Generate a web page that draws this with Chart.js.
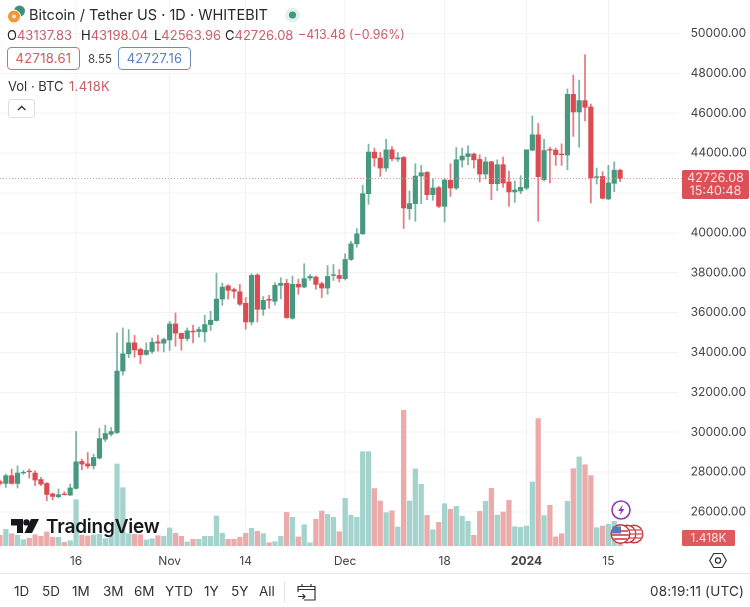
<!DOCTYPE html>
<html><head><meta charset="utf-8">
<style>
html,body{margin:0;padding:0;background:#fff;width:750px;height:607px;overflow:hidden;font-family:Inter,Roboto,sans-serif;color:#222}
#wrap{position:relative;width:750px;height:607px}
canvas{position:absolute;left:0;top:0}
.t{position:absolute;white-space:nowrap;line-height:1}
.red{color:#c9606a}
.box{position:absolute;border-radius:4px;background:#fff;font-size:13px;text-align:center;box-sizing:border-box;letter-spacing:.3px}
.tb{position:absolute;top:585px;font-size:13.5px;color:#333;line-height:1}
svg{position:absolute;overflow:visible}
</style>
<script src="https://cdn.jsdelivr.net/npm/chart.js@4"></script>
</head><body><div id="wrap">
<canvas id="c" width="750" height="573"></canvas>

<svg style="left:0;top:0" width="40" height="30">
<circle cx="19.5" cy="11" r="5.5" fill="#3f8f80"/>
<circle cx="14" cy="16.5" r="6.5" fill="#ef9a36" stroke="#fff" stroke-width="1"/>
<circle cx="14" cy="16.5" r="2" fill="#fff" opacity=".75"/>
</svg>
<div class="t" style="left:29px;top:8px;font-size:14.5px;color:#2a2a2e">Bitcoin / Tether US · 1D · WHITEBIT</div>
<svg style="left:284px;top:7px" width="18" height="18"><circle cx="8.5" cy="8" r="7.5" fill="#e3f1ee"/><circle cx="8.5" cy="8" r="3.6" fill="#3f9a85"/></svg>
<div class="t" style="left:7px;top:29px;font-size:13px"><span>O</span><span class="red">43137.83</span></div>
<div class="t" style="left:81px;top:29px;font-size:13px"><span>H</span><span class="red">43198.04</span></div>
<div class="t" style="left:154px;top:29px;font-size:13px"><span>L</span><span class="red">42563.96</span></div>
<div class="t" style="left:225px;top:29px;font-size:13px"><span>C</span><span class="red">42726.08</span></div>
<div class="t red" style="left:298px;top:29px;font-size:12.4px">−413.48 (−0.96%)</div>
<div class="box" style="left:7px;top:47px;width:73px;height:23px;line-height:21px;border:1px solid #cc6f74;color:#c9606a">42718.61</div>
<div class="t" style="left:88px;top:54px;font-size:11.5px;color:#444">8.55</div>
<div class="box" style="left:118px;top:47px;width:73px;height:23px;line-height:21px;border:1px solid #6a8ac4;color:#5a7fc0">42727.16</div>
<div class="t" style="left:8px;top:80px;font-size:13px;color:#333">Vol · BTC</div>
<div class="t red" style="left:69px;top:80px;font-size:13px;letter-spacing:.3px">1.418K</div>
<div style="position:absolute;left:8px;top:99px;width:27px;height:19px;border:1px solid #ddd;border-radius:3px;box-sizing:border-box;background:#fff"></div>
<svg style="left:17px;top:105px" width="10" height="6"><path d="M1 5 L4.7 1.5 L8.5 5" fill="none" stroke="#333" stroke-width="1.4"/></svg>

<svg style="left:11px;top:519px" width="40" height="18"><path d="M0 0H12V14H6V6.5H0Z" fill="#17181c"/><circle cx="15.5" cy="3.4" r="3.2" fill="#17181c"/><path d="M20 0H28L21 14H13.5Z" fill="#17181c"/></svg>
<div class="t" style="left:46px;top:517px;font-size:19px;font-weight:600;color:#17181c;letter-spacing:-.2px">TradingView</div>

<svg style="left:611px;top:500px" width="20" height="20"><circle cx="10" cy="10" r="9" fill="#fff" stroke="#8e3cb0" stroke-width="1.6"/><path d="M12 4.5 L7 11 H10 L8.5 15.5 L13.5 9 H10.5Z" fill="#8e3cb0"/></svg>
<svg style="left:610px;top:524px" width="40" height="22">
<circle cx="24" cy="10" r="8.8" fill="#fff" stroke="#c8343c" stroke-width="1.4"/><path d="M20 6H32M22 10H33M20 14H32" stroke="#d9646a" stroke-width="1.6"/>
<circle cx="17" cy="10" r="8.8" fill="#fff" stroke="#c8343c" stroke-width="1.4"/><path d="M12 6H25M12 10H26M12 14H25" stroke="#d9646a" stroke-width="1.6"/>
<circle cx="10.5" cy="10" r="9.3" fill="#fff" stroke="#c8343c" stroke-width="1.4"/><path d="M3 7H18M2 11H19M4 15H17" stroke="#d9646a" stroke-width="1.8"/><path d="M2.5 2.5H11V9.5H2Z" fill="#5578b8"/>
</svg>

<svg style="left:709px;top:552px" width="18" height="17"><path d="M4.7 1.5H13.3L17.3 8.5 13.3 15.5H4.7L.7 8.5Z" fill="none" stroke="#333" stroke-width="1.2"/><circle cx="9" cy="8.5" r="2.6" fill="none" stroke="#333" stroke-width="1.2"/></svg>

<div style="position:absolute;left:0;top:573px;width:750px;height:1px;background:#e6e6e6"></div>
<div class="tb" style="left:14px">1D</div>
<div class="tb" style="left:42px">5D</div>
<div class="tb" style="left:72px">1M</div>
<div class="tb" style="left:103px">3M</div>
<div class="tb" style="left:134px">6M</div>
<div class="tb" style="left:165px">YTD</div>
<div class="tb" style="left:204px">1Y</div>
<div class="tb" style="left:231px">5Y</div>
<div class="tb" style="left:259px">All</div>
<div style="position:absolute;left:284px;top:582px;width:1px;height:20px;background:#e3e3e3"></div>
<svg style="left:297px;top:582px" width="20" height="20"><path d="M1 10V4.5H18V18H7M1 7.5H18M5 2V5M14 2V5M1 14.5H7.5M5.5 12L8 14.5 5.5 17" fill="none" stroke="#333" stroke-width="1.2"/></svg>
<div class="tb" style="left:650px;letter-spacing:.2px">08:19:11 (UTC)</div>
</div>
<script>
const categories = ["Oct 3","Oct 4","Oct 5","Oct 6","Oct 7","Oct 8","Oct 9","Oct 10","Oct 11","Oct 12","Oct 13","Oct 14","Oct 15","Oct 16","Oct 17","Oct 18","Oct 19","Oct 20","Oct 21","Oct 22","Oct 23","Oct 24","Oct 25","Oct 26","Oct 27","Oct 28","Oct 29","Oct 30","Oct 31",
"Nov 1","Nov 2","Nov 3","Nov 4","Nov 5","Nov 6","Nov 7","Nov 8","Nov 9","Nov 10","Nov 11","Nov 12","Nov 13","Nov 14","Nov 15","Nov 16","Nov 17","Nov 18","Nov 19","Nov 20","Nov 21","Nov 22","Nov 23","Nov 24","Nov 25","Nov 26","Nov 27","Nov 28","Nov 29","Nov 30",
"Dec 1","Dec 2","Dec 3","Dec 4","Dec 5","Dec 6","Dec 7","Dec 8","Dec 9","Dec 10","Dec 11","Dec 12","Dec 13","Dec 14","Dec 15","Dec 16","Dec 17","Dec 18","Dec 19","Dec 20","Dec 21","Dec 22","Dec 23","Dec 24","Dec 25","Dec 26","Dec 27","Dec 28","Dec 29","Dec 30","Dec 31",
"Jan 1","Jan 2","Jan 3","Jan 4","Jan 5","Jan 6","Jan 7","Jan 8","Jan 9","Jan 10","Jan 11","Jan 12","Jan 13","Jan 14","Jan 15","Jan 16","Jan 17",
"Jan 18","Jan 19","Jan 20","Jan 21","Jan 22","Jan 23","Jan 24","Jan 25","Jan 26","Jan 27"];
const opens = [27515,27430,27815,27430,27960,28040,27950,27620,27430,26900,26765,26900,26850,27180,28530,28415,28315,28700,29650,29900,29980,33065,33930,34480,34150,33900,34050,34530,34465,
34630,35430,34950,34700,35070,35050,35030,35400,35600,36680,37340,37155,37040,36465,35530,37880,36165,36665,36565,37365,37465,35715,37415,37280,37730,37780,37450,37230,37865,37865,
37700,38665,39450,39950,41965,44050,43750,43250,44165,43700,43780,41215,41465,42850,43030,41915,42265,41330,42640,42245,43650,43830,43950,43680,42950,43565,42465,43415,42550,42050,42100,
42250,44150,44915,42665,44180,44150,43950,43900,46950,46065,46635,46315,42780,42830,41700,42485,43137.83];
const highs = [27600,27900,28150,28310,28080,28150,28065,27730,27480,26950,27150,27015,27400,30030,28650,28980,28900,30200,30350,30230,34980,35230,35150,34850,34230,34480,34730,34865,34730,
35570,35980,34980,35230,35370,35280,35870,36070,37980,37480,37400,37230,37410,36750,37950,37950,36800,36865,37500,37750,37665,37830,37665,38450,37915,37830,37530,38365,38415,38165,
38950,39580,40215,42385,44450,44250,44030,44700,44330,44030,43830,42100,43465,43385,43080,42715,42330,42750,43465,44280,44250,44365,44000,43915,43800,43585,43665,43800,43100,42600,42865,
44170,45865,45500,44700,44300,44250,44465,47215,47915,47665,48935,46465,43250,43065,43385,43565,43198.04];
const lows = [27350,27230,27400,27200,27880,27700,27315,27315,26565,26600,26700,26850,26815,27150,28115,28180,28150,28650,29530,29815,29930,32865,33730,33765,33430,33865,33950,34065,34030,
34100,34315,34115,34580,34480,34765,34530,35100,35570,36365,36680,36720,36350,35170,35380,35530,35865,36215,36380,36700,35715,35665,36915,37250,37615,37165,36750,36915,37615,37530,
37630,38615,39280,39915,41430,43330,42830,43085,43615,43580,40215,40665,40580,41465,41665,41630,41265,40550,41830,42165,43300,43415,43250,42550,42700,41665,42115,42285,41330,41530,41965,
42165,44115,40580,42600,42500,43380,43380,43165,44835,44300,45615,41500,42450,41700,41665,42065,42563.96];
const closes = [27430,27815,27430,27950,27985,28015,27600,27400,26880,26780,26865,26865,27200,28515,28400,28300,28730,29680,29930,30030,33065,33930,34480,34130,33880,34100,34515,34465,34650,
35430,34965,34700,35085,35030,35150,35400,35620,36680,37280,37115,37065,36420,35530,37865,36165,36615,36615,37365,37465,35750,37415,37280,37700,37815,37415,37230,37815,37900,37715,
38665,39450,39950,41965,44050,43750,43250,44165,43715,43765,41250,41465,42850,43015,41915,42250,41330,42650,42250,43665,43850,43965,43665,42950,43565,42465,43415,42500,42050,42150,42285,
44165,44915,42815,44130,44150,43915,43915,46950,46065,46635,46300,42750,42815,41730,42500,43140,42726.08];
const volumes = [2.93,4.58,3.39,2.93,1.74,2.11,3.11,2.66,3.85,2.38,2.38,1.01,1.47,12.73,2.93,2.75,3.02,3.21,2.02,2.66,22.53,16.03,3.39,3.21,3.11,1.65,2.02,2.84,2.66,
4.95,3.48,2.66,1.10,1.83,1.83,2.66,2.66,8.24,3.48,1.83,1.83,2.38,3.48,4.85,4.03,3.39,0.92,1.19,2.66,9.25,7.88,2.47,5.86,0.92,7.33,9.62,8.70,7.88,3.94,
13.10,8.43,7.88,25.92,25.92,15.76,12.37,9.16,9.71,5.22,37.28,12.37,21.16,16.95,8.43,4.49,6.50,11.63,10.08,10.90,8.15,6.78,2.93,9.53,12.27,15.85,8.43,9.34,12.55,5.31,5.13,
5.50,17.59,34.99,8.34,11.18,2.47,3.39,12.27,21.25,24.46,22.35,19.33,5.04,5.50,5.95,6.78,1.418];
const xTickIndex = [13,29,42,59,76,90,104];
const xTickLabels = ["16","Nov","14","Dec","18","2024","15"];
const yTicks = [26000,28000,30000,32000,34000,36000,38000,40000,42000,44000,46000,48000,50000];
const lastPrice = 42726.08;
const priceTag = ["42726.08","15:40:48"];
const volumeTag = "1.418K";

const UP="#48987f", DOWN="#dc4a52", UPW="rgba(72,152,127,.72)", DOWNW="rgba(220,74,82,.72)";
const UPV="#a4d3cd", DOWNV="#ebabaa";
const isUp = closes.map((c,i)=>c>=opens[i]);
const FONT="Inter, Roboto, sans-serif";

const overlay = {
  id:"overlay",
  afterDatasetsDraw(chart){
    const {ctx,chartArea:a,scales:{y}}=chart;
    const py=y.getPixelForValue(lastPrice);
    ctx.save();
    ctx.strokeStyle="#d49a9c";ctx.lineWidth=1;ctx.setLineDash([1,2]);
    ctx.beginPath();ctx.moveTo(a.left,Math.round(py)+.5);ctx.lineTo(682,Math.round(py)+.5);ctx.stroke();
    ctx.setLineDash([]);
    ctx.fillStyle="#de5057";
    ctx.beginPath();ctx.roundRect(682,Math.round(py)-8,67,29,2);ctx.fill();
    ctx.fillStyle="#fbe3e3";ctx.font="12.5px "+FONT;ctx.textAlign="center";ctx.textBaseline="middle";
    ctx.fillText(priceTag[0],715.5,Math.round(py));
    ctx.fillText(priceTag[1],715.5,Math.round(py)+13);
    const vy=a.bottom-16;
    ctx.fillStyle="#de5a5c";
    ctx.beginPath();ctx.roundRect(682,vy,53,16,1.5);ctx.fill();
    ctx.fillStyle="#fbe3e3";ctx.font="12px "+FONT;
    ctx.fillText(volumeTag,708.5,vy+8.5);
    ctx.restore();
  }
};

new Chart(document.getElementById("c"),{
  data:{labels:categories,datasets:[
    {type:"bar",label:"Body",order:1,grouped:false,barThickness:4.5,yAxisID:"y",
     data:opens.map((o,i)=>[o,closes[i]]),
     backgroundColor:isUp.map(u=>u?UP:DOWN)},
    {type:"bar",label:"Wick",order:2,grouped:false,barThickness:1.1,yAxisID:"y",
     data:lows.map((l,i)=>[l,highs[i]]),
     backgroundColor:isUp.map(u=>u?UPW:DOWNW)},
    {type:"bar",label:"Vol",order:3,grouped:false,barThickness:4.6,yAxisID:"v",
     data:volumes,
     backgroundColor:isUp.map(u=>u?UPV:DOWNV)}
  ]},
  options:{
    responsive:false,animation:false,devicePixelRatio:2,
    layout:{padding:0},
    plugins:{legend:{display:false},tooltip:{enabled:false},title:{display:false}},
    scales:{
      x:{type:"category",offset:false,
        afterFit(s){s.height=27;s.paddingLeft=0;s.paddingRight=0;s.paddingTop=0;s.paddingBottom=0},
        afterBuildTicks(s){s.ticks=xTickIndex.map(i=>({value:i}))},
        border:{display:false},
        grid:{offset:false,color:"#f2f2f2",lineWidth:1,drawTicks:false},
        ticks:{autoSkip:false,maxRotation:0,minRotation:0,padding:8,color:"#444",
          callback(v){const k=xTickIndex.indexOf(v);return k>=0?xTickLabels[k]:""},
          font(ctx){return {family:FONT,size:12,weight:ctx.tick&&ctx.tick.label==="2024"?"700":"400"}}}},
      y:{type:"linear",position:"right",min:24291,max:51680,
        afterFit(s){s.width=71.4;s.paddingLeft=0;s.paddingRight=0;s.paddingTop=0;s.paddingBottom=0},
        afterBuildTicks(s){s.ticks=yTicks.map(v=>({value:v}))},
        border:{display:false},
        grid:{color:"#f2f2f2",lineWidth:1,drawTicks:false},
        ticks:{padding:12,color:"#444",font:{family:FONT,size:12},callback:v=>v.toFixed(2)}},
      v:{type:"linear",display:false,min:0,max:150,grid:{display:false}}
    }
  },
  plugins:[overlay]
});
</script>
</body></html>
